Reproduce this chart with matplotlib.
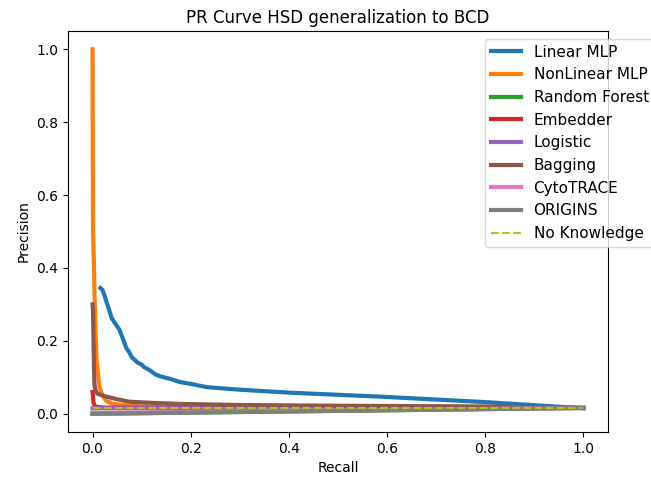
import matplotlib
matplotlib.use('Agg')
import matplotlib.pyplot as plt

# (recall, precision) points
linear_r = [0.016, 0.02, 0.024, 0.03, 0.035, 0.039, 0.045, 0.05, 0.055, 0.062, 0.069, 0.075, 0.08, 0.092, 0.1, 0.105, 0.116, 0.128, 0.137, 0.16, 0.178, 0.2, 0.233, 0.3, 0.4, 0.586, 0.8, 1.0]
linear_p = [0.345, 0.34, 0.326, 0.30, 0.28, 0.262, 0.25, 0.24, 0.23, 0.205, 0.18, 0.168, 0.155, 0.14, 0.135, 0.128, 0.12, 0.108, 0.103, 0.095, 0.087, 0.082, 0.073, 0.066, 0.058, 0.047, 0.032, 0.015]

nonlin_r = [0.0, 0.0005, 0.001, 0.002, 0.003, 0.004, 0.005, 0.008, 0.014, 0.02, 0.028, 0.04, 0.055, 0.1, 0.3, 0.6, 1.0]
nonlin_p = [1.0, 0.7, 0.5, 0.45, 0.4, 0.33, 0.28, 0.15, 0.075, 0.05, 0.035, 0.028, 0.025, 0.02, 0.018, 0.017, 0.016]

rf_r = [0.0, 0.5, 1.0]
rf_p = [0.0, 0.008, 0.016]

emb_r = [0.0, 0.002, 0.005, 0.02, 0.5, 1.0]
emb_p = [0.06, 0.03, 0.02, 0.017, 0.016, 0.016]

log_r = [0.0, 0.3, 0.7, 1.0]
log_p = [0.015, 0.015, 0.016, 0.016]

bag_r = [0.0, 0.001, 0.002, 0.003, 0.004, 0.006, 0.01, 0.028, 0.05, 0.075, 0.12, 0.178, 0.3, 0.5, 0.8, 1.0]
bag_p = [0.30, 0.28, 0.2, 0.12, 0.08, 0.065, 0.055, 0.047, 0.04, 0.033, 0.03, 0.027, 0.024, 0.022, 0.02, 0.016]

cyto_r = [0.0, 0.5, 1.0]
cyto_p = [0.002, 0.009, 0.016]

origins_r = [0.0, 0.5, 1.0]
origins_p = [0.0, 0.008, 0.016]

base_rate = 0.016

fig = plt.figure(figsize=(6.51, 4.8), dpi=100)
ax = fig.add_axes([68/651, 1-432/480, 540/651, 401/480])

ax.plot(linear_r, linear_p, lw=3, label='Linear MLP')
ax.plot(nonlin_r, nonlin_p, lw=3, label='NonLinear MLP')
ax.plot(rf_r, rf_p, lw=3, label='Random Forest')
ax.plot(emb_r, emb_p, lw=3, label='Embedder')
ax.plot(log_r, log_p, lw=3, label='Logistic')
ax.plot(bag_r, bag_p, lw=3, label='Bagging')
ax.plot(cyto_r, cyto_p, lw=3, label='CytoTRACE')
ax.plot(origins_r, origins_p, lw=3, label='ORIGINS')
ax.plot([0, 1], [base_rate, base_rate], '--', color='tab:olive', label='No Knowledge')

ax.set_title('PR Curve HSD generalization to BCD')
ax.set_xlabel('Recall')
ax.set_ylabel('Precision')
ax.legend(loc='upper left', fontsize=11, bbox_to_anchor=(477/651, 1-31/480), bbox_transform=fig.transFigure)

fig.savefig('out.png', dpi=100)
